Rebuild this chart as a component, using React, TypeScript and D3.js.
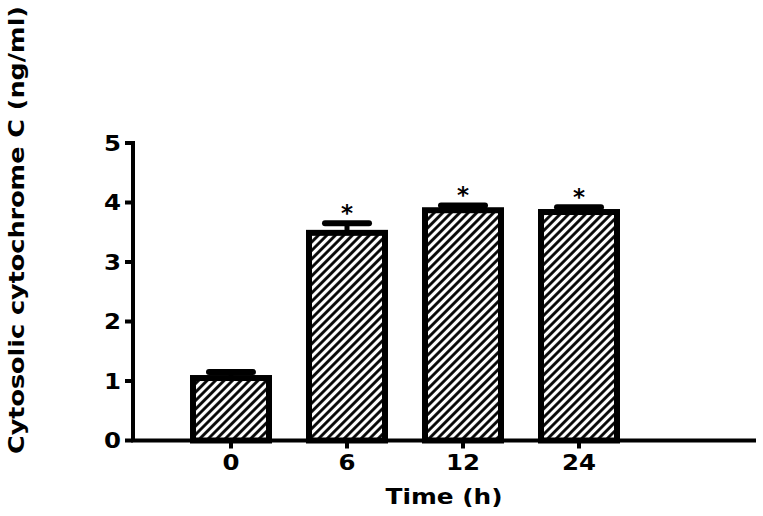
import React from "react";
import * as d3 from "d3";

const categories = ["0", "6", "12", "24"];
const means = [1.05, 3.49, 3.87, 3.84];
const errors = [0.1, 0.16, 0.08, 0.08];
const significant = [false, true, true, true];
const yTicks = [0, 1, 2, 3, 4, 5];

const W = 763;
const H = 516;

export default function App() {
  const y = d3.scaleLinear().domain([0, 5]).range([440.5, 143]);
  const x = d3.scalePoint<string>().domain(categories).range([231, 579]);
  const barW = 76;
  const capW = 44;
  const font = "'DejaVu Sans', Verdana, sans-serif";

  return (
    <svg width={W} height={H} style={{ position: "absolute", left: 0, top: 0 }}>
      <defs>
        <pattern id="hatch" patternUnits="userSpaceOnUse" width="6" height="6" patternTransform="rotate(45)">
          <rect width="6" height="6" fill="white" />
          <line x1="1.5" y1="0" x2="1.5" y2="6" stroke="black" strokeWidth="2.8" />
        </pattern>
      </defs>
      <rect width={W} height={H} fill="white" />
      {categories.map((c, i) => {
        const cx = x(c)!;
        const top = y(means[i]);
        const eTop = y(means[i] + errors[i]);
        return (
          <g key={c}>
            <line x1={cx} x2={cx} y1={top} y2={eTop} stroke="black" strokeWidth={5} />
            <line x1={cx - capW / 2} x2={cx + capW / 2} y1={eTop} y2={eTop} stroke="black" strokeWidth={6} strokeLinecap="round" />
            <rect x={cx - barW / 2} y={top} width={barW} height={y(0) - top} fill="url(#hatch)" stroke="black" strokeWidth={6} />
            {significant[i] && (
              <text x={cx} y={eTop - 2} textAnchor="middle" fontFamily={font} fontWeight="bold" fontSize={23}>*</text>
            )}
          </g>
        );
      })}
      {/* y axis */}
      <line x1={133} x2={133} y1={y(5) - 2} y2={y(0)} stroke="black" strokeWidth={4} />
      {yTicks.map((t) => (
        <g key={t}>
          <line x1={125} x2={133} y1={y(t)} y2={y(t)} stroke="black" strokeWidth={4} />
          <text x={121} y={y(t) + 7.5} textAnchor="end" fontFamily={font} fontWeight="bold" fontSize={22} textLength={17} lengthAdjust="spacingAndGlyphs">{t}</text>
        </g>
      ))}
      {/* x axis */}
      <line x1={131} x2={756} y1={y(0)} y2={y(0)} stroke="black" strokeWidth={4} />
      {categories.map((c) => (
        <g key={c}>
          <line x1={x(c)!} x2={x(c)!} y1={y(0)} y2={y(0) + 8} stroke="black" strokeWidth={4} />
          <text x={x(c)!} y={470} textAnchor="middle" fontFamily={font} fontWeight="bold" fontSize={21} textLength={c.length * 17} lengthAdjust="spacingAndGlyphs">{c}</text>
        </g>
      ))}
      <text x={444} y={504} textAnchor="middle" fontFamily={font} fontWeight="bold" fontSize={21} textLength={117} lengthAdjust="spacingAndGlyphs">Time (h)</text>
      <text transform={`translate(24, 230) rotate(-90)`} textAnchor="middle" fontFamily={font} fontWeight="bold" fontSize={21} textLength={448} lengthAdjust="spacingAndGlyphs">Cytosolic cytochrome C (ng/ml)</text>
    </svg>
  );
}
